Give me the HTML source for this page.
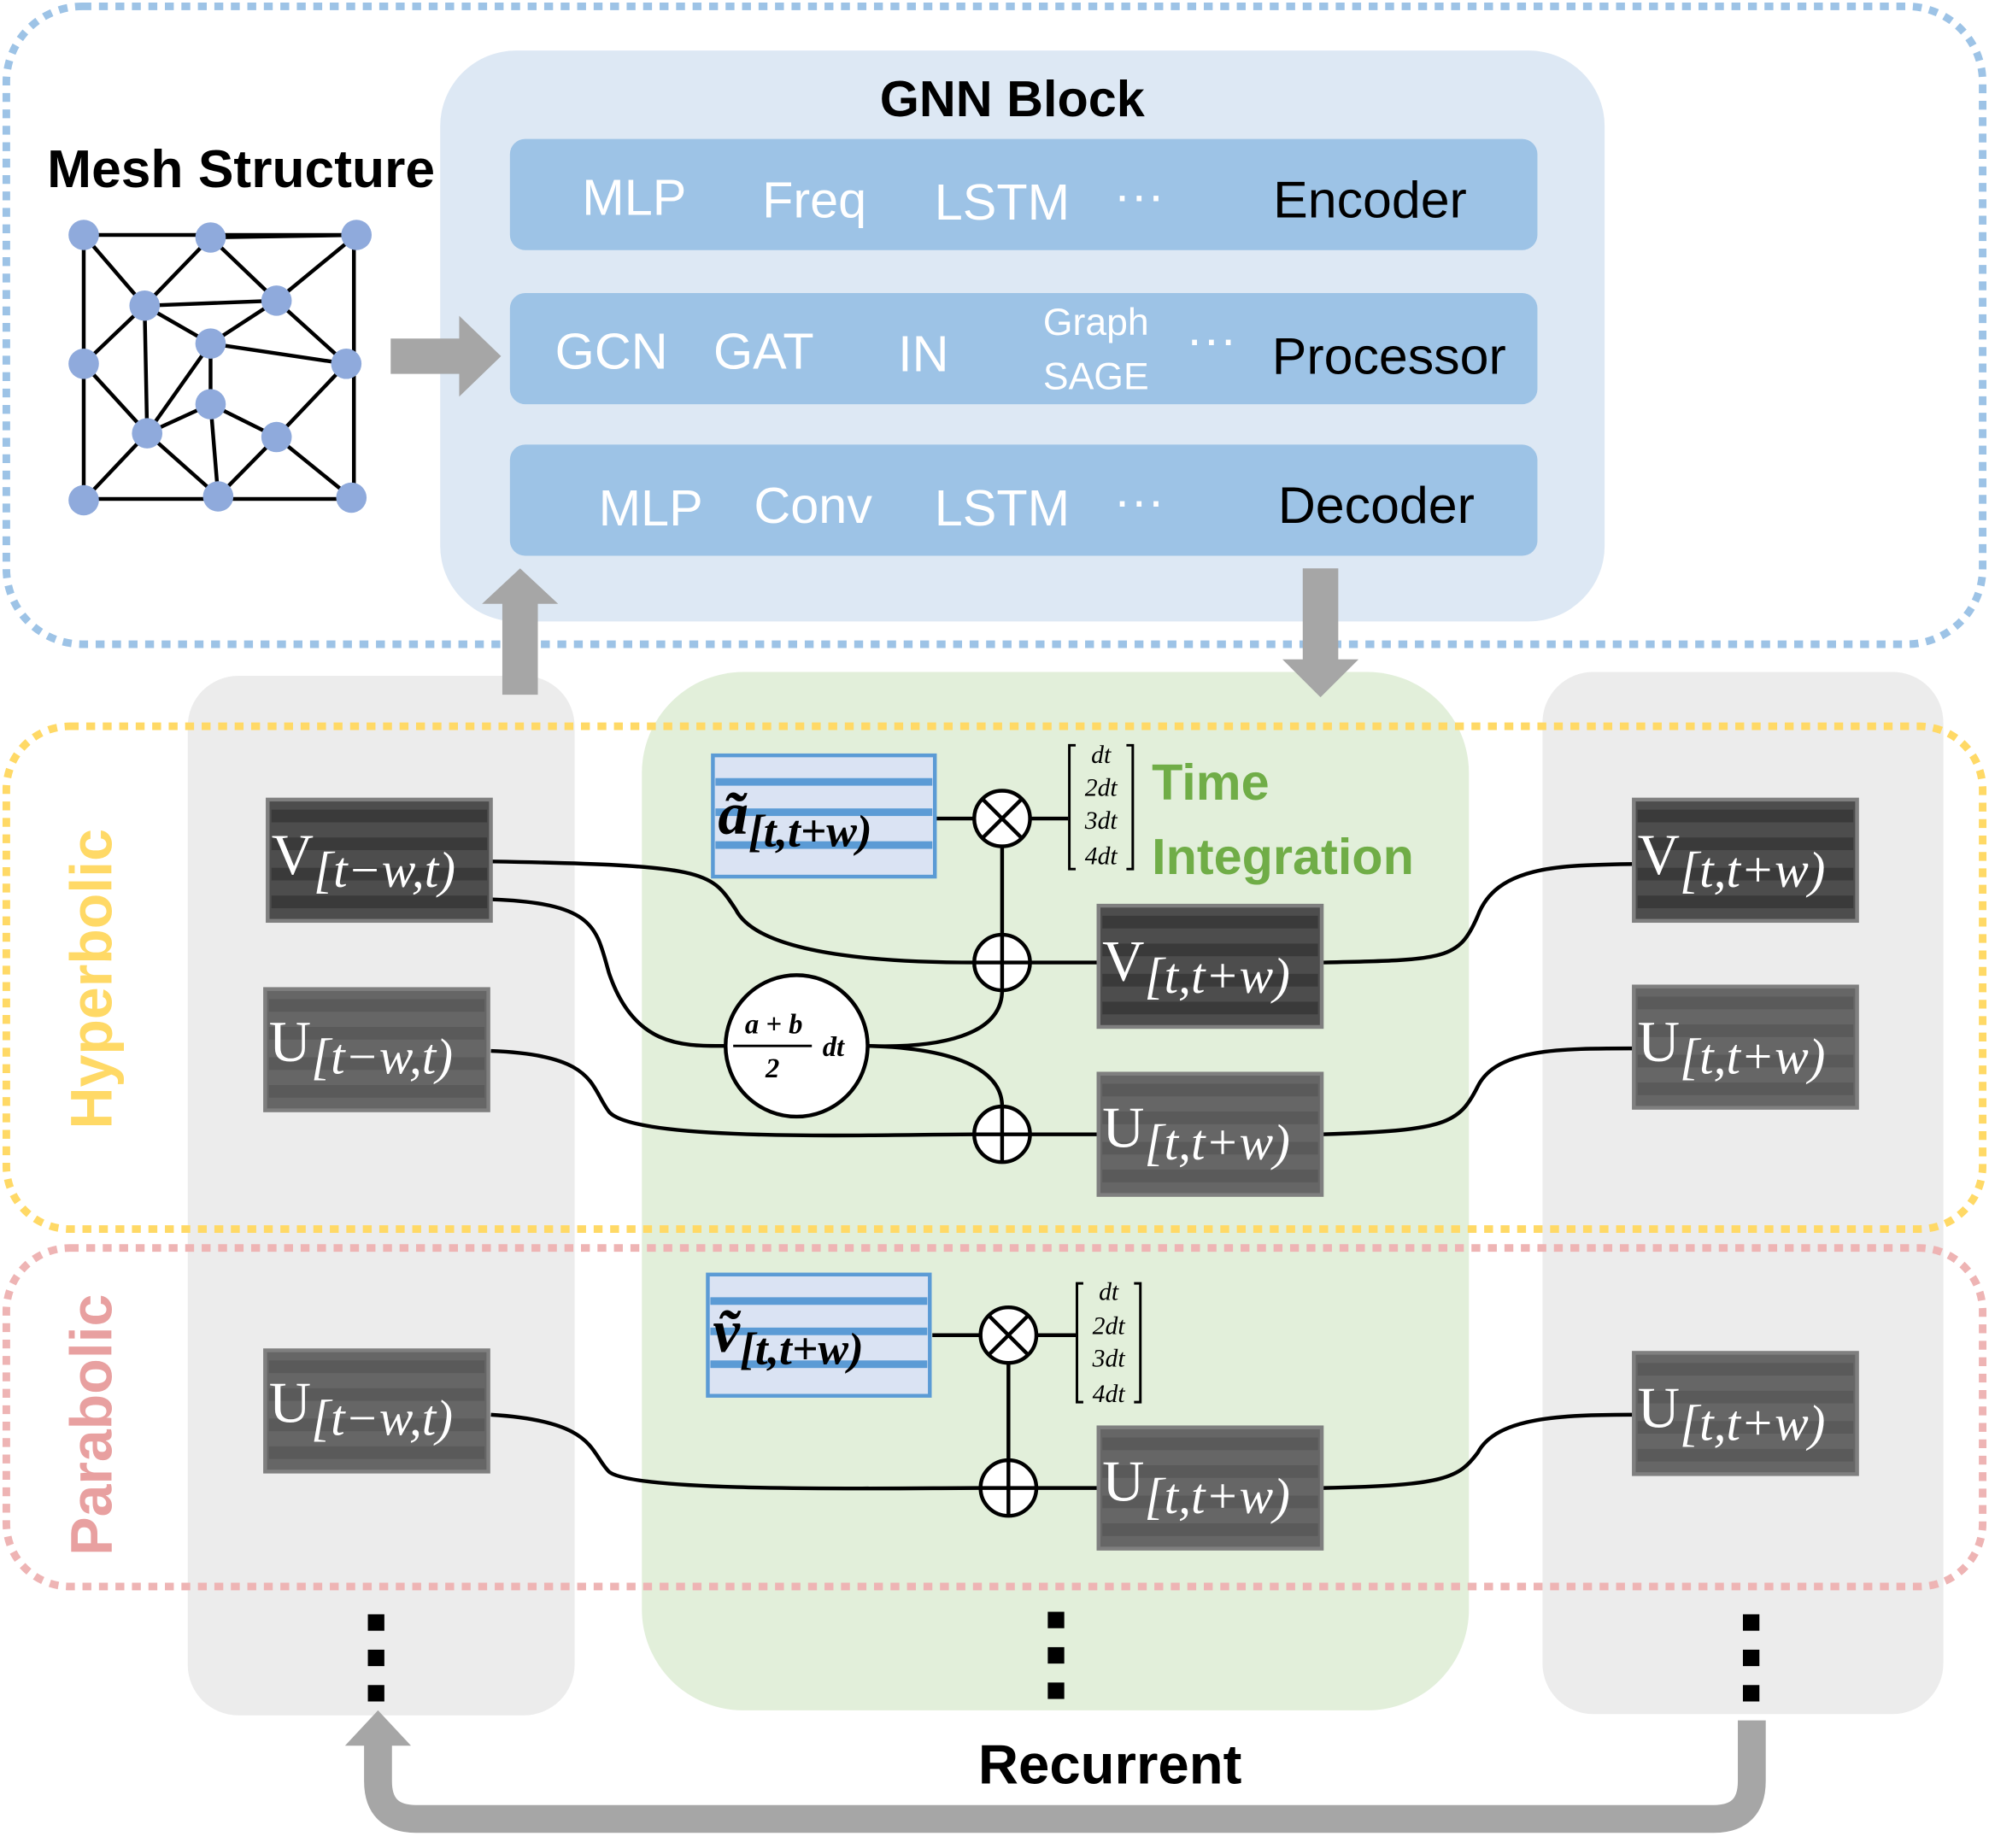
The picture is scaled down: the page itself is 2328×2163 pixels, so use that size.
<!DOCTYPE html>
<html><head><meta charset="utf-8"><style>html,body{margin:0;padding:0;background:#fff}svg{display:block}</style></head><body>
<svg width="2328" height="2163" viewBox="0 0 1568 1463" preserveAspectRatio="none" xmlns="http://www.w3.org/2000/svg" font-family="Liberation Sans, DejaVu Sans, sans-serif">
<defs>
<g id="dk"><rect width="176" height="96" fill="#4d4d4d" stroke="#7f7f7f" stroke-width="3"/>
<rect x="3" y="8" width="170" height="10" fill="#3a3a3a"/><rect x="3" y="30" width="170" height="10" fill="#3a3a3a"/><rect x="3" y="54" width="170" height="10" fill="#3a3a3a"/><rect x="3" y="76" width="170" height="10" fill="#3a3a3a"/></g>
<g id="du"><rect width="176" height="96" fill="#666" stroke="#7f7f7f" stroke-width="3"/>
<rect x="3" y="8" width="170" height="10" fill="#5a5a5a"/><rect x="3" y="30" width="170" height="10" fill="#5a5a5a"/><rect x="3" y="54" width="170" height="10" fill="#5a5a5a"/><rect x="3" y="76" width="170" height="10" fill="#5a5a5a"/></g>
<g id="bl"><rect width="175" height="96" fill="#dae3f3" stroke="#5b9bd5" stroke-width="3"/>
<rect x="2" y="18" width="171" height="6" fill="#5b9bd5"/><rect x="2" y="42" width="171" height="6" fill="#5b9bd5"/><rect x="2" y="68" width="171" height="6" fill="#5b9bd5"/></g>
</defs>
<rect x="5" y="5" width="1558" height="505" rx="60" fill="none" stroke="#9dc3e6" stroke-width="6" stroke-dasharray="7 6"/>
<rect x="347" y="40" width="918" height="452" rx="60" fill="#dde8f4"/>
<text x="798" y="92" font-size="40" font-weight="bold" text-anchor="middle">GNN Block</text>
<rect x="402" y="110" width="810" height="88" rx="12" fill="#9dc3e6"/>
<rect x="402" y="232" width="810" height="88" rx="12" fill="#9dc3e6"/>
<rect x="402" y="352" width="810" height="88" rx="12" fill="#9dc3e6"/>
<g fill="#fff" font-size="40" text-anchor="middle">
<text x="500" y="170">MLP</text><text x="642" y="172">Freq</text><text x="790" y="174">LSTM</text><text x="898" y="168">···</text>
<text x="482" y="292">GCN</text><text x="602" y="292">GAT</text><text x="728" y="294">IN</text><text x="864" y="265" font-size="30">Graph</text><text x="864" y="308" font-size="30">SAGE</text><text x="955" y="282">···</text>
<text x="513" y="416">MLP</text><text x="641" y="414">Conv</text><text x="790" y="416">LSTM</text><text x="898" y="410">···</text>
</g>
<g font-size="41" text-anchor="middle"><text x="1080" y="172">Encoder</text><text x="1095" y="296">Processor</text><text x="1085" y="414">Decoder</text></g>
<text x="190" y="148" font-size="42" font-weight="bold" text-anchor="middle">Mesh Structure</text>
<g stroke="#000" stroke-width="3" fill="none">
<rect x="66" y="186" width="213" height="209"/>
<path d="M66 186L114 242L166 188L218 238L281 186M166 188L281 186M114 242L218 238L166 272L114 242L66 288L116 343L66 396M114 242L116 343L166 320L166 272L273 288L218 346L166 320M218 238L273 288M166 272L116 343M116 343L172 393L166 320L218 346L277 394M218 346L172 393M218 238L166 272"/>
</g>
<g fill="#8faadc"><circle cx="66" cy="186" r="12"/><circle cx="166" cy="188" r="12"/><circle cx="281" cy="186" r="12"/><circle cx="114" cy="242" r="12"/><circle cx="218" cy="238" r="12"/><circle cx="166" cy="272" r="12"/><circle cx="66" cy="288" r="12"/><circle cx="273" cy="288" r="12"/><circle cx="166" cy="320" r="12"/><circle cx="116" cy="343" r="12"/><circle cx="218" cy="346" r="12"/><circle cx="66" cy="396" r="12"/><circle cx="172" cy="393" r="12"/><circle cx="277" cy="394" r="12"/></g>
<rect x="148" y="535" width="305" height="823" rx="40" fill="#ececec"/>
<rect x="1216" y="532" width="316" height="825" rx="40" fill="#ececec"/>
<rect x="506" y="532" width="652" height="822" rx="80" fill="#e2efda"/>
<g fill="#a6a6a6"><path d="M308 268H362V250L395 282L362 314V296H308Z"/><path d="M396 550V478H380L410 450L440 478H424V550Z"/><path d="M1027 450H1055V522H1071L1041 552L1011 522H1027Z"/></g>
<rect x="5" y="575" width="1558" height="398" rx="50" fill="none" stroke="#ffd966" stroke-width="6" stroke-dasharray="7 6"/>
<rect x="5" y="988" width="1558" height="268" rx="50" fill="none" stroke="#eeb4b4" stroke-width="6" stroke-dasharray="7 6"/>
<text transform="translate(88,775) rotate(-90)" font-size="46" font-weight="bold" fill="#ffd966" text-anchor="middle">Hyperbolic</text>
<text transform="translate(88,1128) rotate(-90)" font-size="46" font-weight="bold" fill="#e8a0a0" text-anchor="middle">Parabolic</text>
<g stroke="#000" stroke-width="3" fill="none">
<path d="M388 682C560 685 560 690 580 720C600 760 720 762 770 762"/>
<path d="M388 712C470 715 470 735 480 770C500 830 540 828 572 828"/>
<path d="M387 832C470 835 465 860 480 880C500 905 700 898 768 898"/>
<path d="M684 828C760 830 790 850 790 876"/>
<path d="M684 828C740 830 790 820 790 784"/>
<path d="M790 670V740"/><path d="M737 648H768"/><path d="M812 648H842"/>
<path d="M812 762H866M812 898H866"/>
<path d="M1042 762C1140 760 1150 760 1165 725C1180 685 1230 685 1288 684"/>
<path d="M1042 898C1140 895 1150 890 1165 860C1180 830 1230 830 1288 830"/>
<path d="M387 1120C470 1125 465 1150 480 1165C500 1182 700 1178 773 1178"/>
<path d="M795 1079V1156"/><path d="M735 1057H773"/><path d="M817 1057H848"/><path d="M817 1178H866"/>
<path d="M1043 1178C1140 1176 1150 1170 1165 1150C1180 1122 1230 1120 1288 1120"/>
</g>
<g stroke="#000" stroke-width="3" fill="#fff">
<circle cx="790" cy="648" r="22"/><circle cx="790" cy="762" r="22"/><circle cx="790" cy="898" r="22"/><circle cx="628" cy="828" r="56"/><circle cx="795" cy="1057" r="22"/><circle cx="795" cy="1178" r="22"/></g>
<g stroke="#000" stroke-width="3"><path d="M774 632L806 664M806 632L774 664M768 762H812M790 740V784M768 898H812M790 876V920M779 1041L811 1073M811 1041L779 1073M773 1178H817M795 1156V1200"/></g>
<g font-family="Liberation Serif, serif" font-style="italic" font-weight="bold" text-anchor="middle" font-size="22"><text x="610" y="818">a + b</text><line x1="578" y1="828" x2="640" y2="828" stroke="#000" stroke-width="2"/><text x="609" y="853">2</text><text x="657" y="836">dt</text></g>
<g font-family="Liberation Serif, serif" font-style="italic" font-size="20" text-anchor="middle">
<text x="868" y="604">dt</text><text x="868" y="630">2dt</text><text x="868" y="656">3dt</text><text x="868" y="684">4dt</text>
<text x="874" y="1029">dt</text><text x="874" y="1056">2dt</text><text x="874" y="1082">3dt</text><text x="874" y="1110">4dt</text></g>
<g stroke="#000" stroke-width="2" fill="none"><path d="M848 590H843V688H848M888 590H893V688H888M854 1016H849V1110H854M894 1016H899V1110H894"/></g>
<text x="908" y="633" font-size="40" font-weight="bold" fill="#70ad47">Time</text>
<text x="908" y="692" font-size="40" font-weight="bold" fill="#70ad47">Integration</text>
<use href="#bl" x="562" y="598"/><use href="#bl" x="558" y="1009"/>
<g font-family="Liberation Serif, serif" font-style="italic" font-weight="bold"><text x="566" y="660" font-size="48">ã<tspan font-size="36" dy="10">[t,t+w)</tspan></text><text x="562" y="1070" font-size="48">ṽ<tspan font-size="36" dy="10">[t,t+w)</tspan></text></g>
<use href="#dk" x="211" y="633"/><use href="#du" x="209" y="783"/><use href="#du" x="209" y="1069"/>
<use href="#dk" x="866" y="717"/><use href="#du" x="866" y="850"/><use href="#du" x="866" y="1130"/>
<use href="#dk" x="1288" y="633"/><use href="#du" x="1288" y="781"/><use href="#du" x="1288" y="1071"/>
<g fill="#fff" font-family="Liberation Serif, serif" font-size="46">
<text x="214" y="692">V<tspan font-style="italic" font-size="40" dy="10">[t−w,t)</tspan></text>
<text x="212" y="840">U<tspan font-style="italic" font-size="40" dy="10">[t−w,t)</tspan></text>
<text x="212" y="1126">U<tspan font-style="italic" font-size="40" dy="10">[t−w,t)</tspan></text>
<text x="869" y="776">V<tspan font-style="italic" font-size="40" dy="10">[t,t+w)</tspan></text>
<text x="869" y="908">U<tspan font-style="italic" font-size="40" dy="10">[t,t+w)</tspan></text>
<text x="869" y="1188">U<tspan font-style="italic" font-size="40" dy="10">[t,t+w)</tspan></text>
<text x="1291" y="692">V<tspan font-style="italic" font-size="40" dy="10">[t,t+w)</tspan></text>
<text x="1291" y="840">U<tspan font-style="italic" font-size="40" dy="10">[t,t+w)</tspan></text>
<text x="1291" y="1130">U<tspan font-style="italic" font-size="40" dy="10">[t,t+w)</tspan></text>
</g>
<g fill="#000"><rect x="290" y="1278" width="13" height="13"/><rect x="290" y="1306" width="13" height="13"/><rect x="290" y="1334" width="13" height="13"/>
<rect x="826" y="1276" width="13" height="13"/><rect x="826" y="1304" width="13" height="13"/><rect x="826" y="1332" width="13" height="13"/>
<rect x="1374" y="1278" width="13" height="13"/><rect x="1374" y="1306" width="13" height="13"/><rect x="1374" y="1334" width="13" height="13"/></g>
<path d="M1381 1362V1410Q1381 1440 1351 1440H328Q298 1440 298 1410V1380" fill="none" stroke="#a6a6a6" stroke-width="22"/>
<path d="M272 1382L298 1354L324 1382Z" fill="#a6a6a6"/>
<text x="875" y="1412" font-size="44" font-weight="bold" text-anchor="middle">Recurrent</text>
</svg>
</body></html>
